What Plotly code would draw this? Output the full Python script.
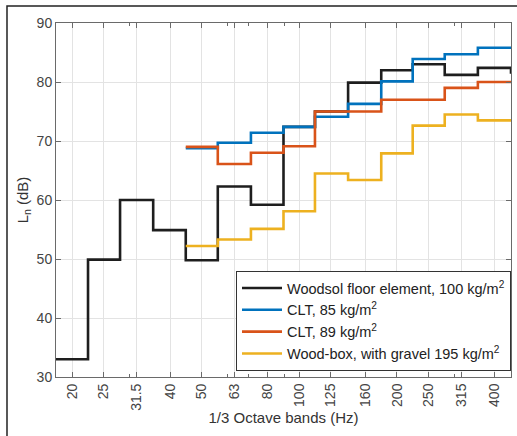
import numpy as np
import plotly.graph_objects as go

# 1/3-octave band centre frequencies (Hz) and their labels
bands = [20, 25, 31.5, 40, 50, 63, 80, 100, 125, 160, 200, 250, 315, 400]
band_labels = ["20", "25", "31.5", "40", "50", "63", "80", "100", "125",
               "160", "200", "250", "315", "400"]

# Impact sound pressure level L_n (dB) per band; None = not measured
woodsol = [33.0, 49.9, 60.0, 54.9, 49.8, 62.3, 59.2, 72.4, 75.0, 79.9,
           82.0, 83.0, 81.2, 82.4]
woodsol_next = 81.4  # level of the following band (500 Hz)
clt85 = [None, None, None, None, 68.8, 69.7, 71.4, 72.4, 74.1, 76.3,
         80.1, 83.9, 84.7, 85.8]
clt89 = [None, None, None, None, 69.0, 66.1, 68.0, 69.1, 75.0, 75.0,
         77.0, 77.0, 79.0, 80.0]
woodbox = [None, None, None, None, 52.2, 53.3, 55.1, 58.1, 64.5, 63.4,
           67.9, 72.6, 74.5, 73.5]

series_names = ["Woodsol floor element, 100 kg/m<sup>2</sup>",
                "CLT, 85 kg/m<sup>2</sup>",
                "CLT, 89 kg/m<sup>2</sup>",
                "Wood-box, with gravel 195 kg/m<sup>2</sup>"]
series_colors = ["#1e1e1e", "#0072BD", "#D95319", "#EDB120"]

# band edges: geometric midpoints between centres, +/- 1/6 octave at the ends
b = np.array(bands, dtype=float)
lower_edges = np.concatenate([[b[0] / 2 ** (1 / 6)], np.sqrt(b[:-1] * b[1:])])
top_edge = b[-1] * 2 ** (1 / 6)


def stairs(values, tail=None):
    """Return x/y for a staircase line spanning each band."""
    xs, ys = [], []
    for edge, v in zip(lower_edges, values):
        if v is None:
            continue
        xs.append(edge)
        ys.append(v)
    xs.append(top_edge)
    ys.append(tail if tail is not None else ys[-1])
    return xs, ys


fig = go.Figure()
all_series = [(woodsol, woodsol_next), (clt85, None), (clt89, None), (woodbox, None)]
for (vals, tail), name, color in zip(all_series, series_names, series_colors):
    xs, ys = stairs(vals, tail)
    fig.add_trace(go.Scatter(
        x=xs, y=ys, mode="lines", name=name,
        line=dict(color=color, width=2.6, shape="hv"),
    ))

font_family = "Liberation Sans, Arial, sans-serif"
axis_color = "#6a6a6a"
tick_font = dict(family=font_family, size=14, color="#444444")
minor_vals = [20, 30, 40, 50, 60, 70, 80, 90, 100, 200, 300, 400]

fig.update_xaxes(
    type="log",
    range=[np.log10(lower_edges[0]), np.log10(top_edge)],
    tickmode="array", tickvals=bands, ticktext=band_labels,
    tickangle=-90, tickfont=tick_font,
    ticks="inside", ticklen=5, tickcolor=axis_color,
    showgrid=True, gridcolor="#e3e3e3", gridwidth=1,
    showline=True, linecolor=axis_color, linewidth=1, mirror="ticks",
    zeroline=False,
    minor=dict(tickmode="array", tickvals=minor_vals, ticks="inside",
               ticklen=3, tickcolor=axis_color, showgrid=False),
    title=dict(text="1/3 Octave bands (Hz)", standoff=2,
               font=dict(family=font_family, size=15, color="#333333")),
)
fig.update_yaxes(
    range=[30, 90], tickmode="array", tickvals=[30, 40, 50, 60, 70, 80, 90],
    tickfont=tick_font,
    ticks="inside", ticklen=5, tickcolor=axis_color,
    showgrid=True, gridcolor="#e3e3e3", gridwidth=1,
    showline=True, linecolor=axis_color, linewidth=1, mirror="ticks",
    zeroline=False,
    title=dict(text="L<sub>n</sub> (dB)", standoff=4,
               font=dict(family=font_family, size=15, color="#333333")),
)

# figure frame (top and left edges fall inside the page)
fig.add_shape(type="rect", xref="paper", yref="paper",
              x0=-0.1077, y0=-0.3, x1=1.2, y1=1.048,
              line=dict(color="#222222", width=1.5), layer="above")

fig.update_layout(
    width=517, height=436,
    margin=dict(l=56, r=6, t=23, b=59),
    paper_bgcolor="white", plot_bgcolor="white",
    font=dict(family=font_family, color="#222222"),
    showlegend=True,
    legend=dict(
        x=0.3956, y=0.2994, xanchor="left", yanchor="top",
        bgcolor="white", bordercolor="#333333", borderwidth=1,
        font=dict(family=font_family, size=14.5, color="#222222"),
        itemwidth=40, tracegroupgap=0,
    ),
)

fig.write_html("out.html")
